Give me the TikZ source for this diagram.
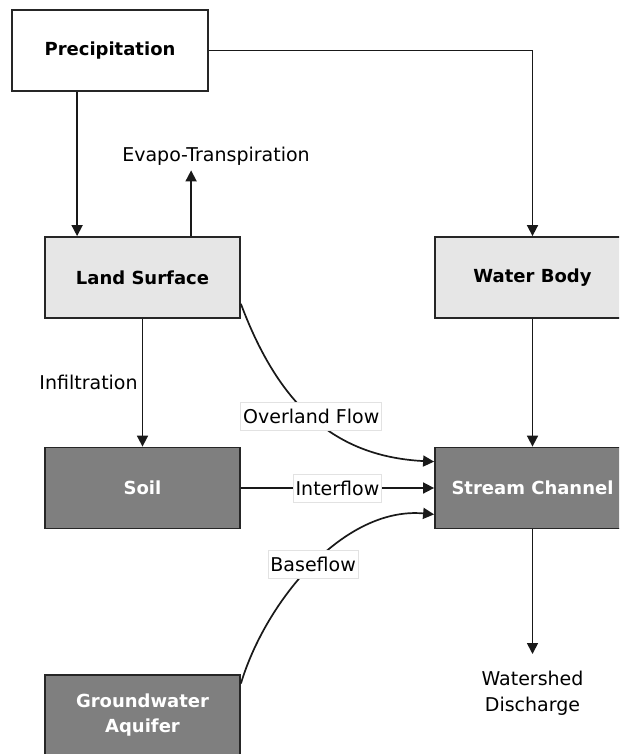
\documentclass[tikz,border=0pt]{standalone}
\usepackage{fontspec}
\setmainfont{DejaVu Sans}
\usetikzlibrary{arrows.meta,calc}
\definecolor{lightfill}{HTML}{E6E6E6}
\definecolor{darkfill}{HTML}{7F7F7F}
\definecolor{lblborder}{HTML}{E2E2E2}
\begin{document}
\begin{tikzpicture}[x=1pt,y=-1pt,
  box/.style={draw=black!85, line width=1.8pt, minimum width=195pt, minimum height=81pt,
    inner sep=0pt, align=center, font=\fontsize{18}{25}\selectfont\bfseries},
  whitebox/.style={box, fill=white, minimum width=196pt},
  lightbox/.style={box, fill=lightfill},
  darkbox/.style={box, fill=darkfill, text=white},
  flow/.style={line width=1.7pt, draw=black!90, -{Triangle[length=11pt,width=11pt]}},
  txt/.style={font=\fontsize{19}{26}\selectfont, align=center, inner sep=0pt},
  lbl/.style={font=\fontsize{19}{26}\selectfont, fill=white, draw=lblborder, line width=0.8pt,
    inner xsep=2.5pt, inner ysep=0pt, minimum height=28pt}
]
\useasboundingbox (0,0) rectangle (619,754);
\clip (0,0) rectangle (619,754);

% nodes
\node[whitebox] (precip) at (110,50.5) {Precipitation};
\node[lightbox] (land)   at (142.5,277.5) {Land Surface};
\node[lightbox] (water)  at (532.5,277.5) {Water Body};
\node[darkbox]  (soil)   at (142.5,488) {Soil};
\node[darkbox]  (stream) at (532.5,488) {Stream Channel};
\node[darkbox]  (gw)     at (142.5,715.5) {Groundwater\\Aquifer};
\node[txt] (evapo) at (216,156) {Evapo-Transpiration};
\node[txt, anchor=north] (ws) at (532.5,671) {Watershed\\Discharge};

% connectors
\coordinate (pl) at ($(precip.south west)+(66,0)$);
\draw[flow] (pl) -- (pl |- land.north);
\draw[flow] (precip.east) -| (water.north);
\coordinate (ev) at ($(land.north west)+(147,0)$);
\draw[flow, shorten >=5pt] (ev) -- (ev |- evapo.south);
\draw[flow] (land.south) -- node[txt, left, inner sep=4pt] {Infiltration} (soil.north);
\draw[flow] (water.south) -- (stream.north);
\draw[flow] (soil.east) -- node[lbl] {Interflow} (stream.west);
\draw[flow] (land.-15) .. controls +(40,107) and +(-95,-5) .. node[lbl, pos=0.47] {Overland Flow} (stream.165);
\draw[flow] (gw.18) .. controls +(25,-83) and +(-90,-8) .. node[lbl, pos=0.5] {Baseflow} (stream.195);
\draw[flow, shorten >=17pt] (stream.south) -- (stream.south |- ws.north);
\end{tikzpicture}
\end{document}
